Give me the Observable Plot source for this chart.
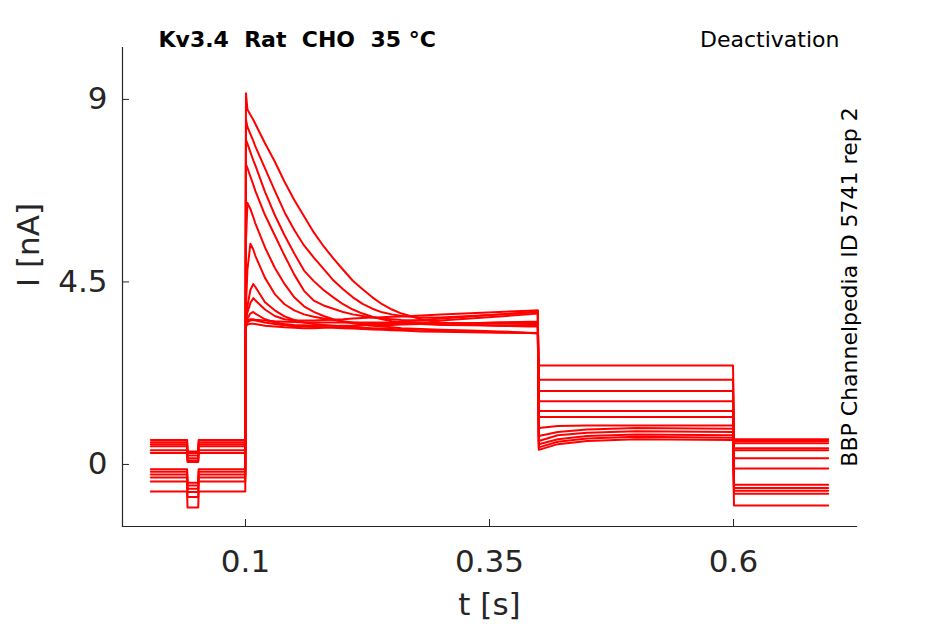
<!DOCTYPE html>
<html>
<head>
<meta charset="utf-8">
<script src="https://cdn.jsdelivr.net/npm/d3@7"></script>
<script src="https://cdn.jsdelivr.net/npm/@observablehq/plot@0.6"></script>
<style>
  html, body { margin: 0; padding: 0; background: #fff; }
  #chart svg { display: block; }
</style>
</head>
<body>
<div id="chart"></div>
<script>
// ---- data ----
const traceIds = ["A","B","C","D","E","F","G","H","I","J","K","L"];

// holding current before the activation step (0 - 0.1 s), and during the short test pulse
const holdTimes = [0.003, 0.0402, 0.0406, 0.0516, 0.052, 0.0998];
const holdLevel = [0.60, 0.55, 0.50, 0.45, 0.35, 0.28, -0.12, -0.18, -0.25, -0.32, -0.42, -0.67];
const dipLevel  = [0.32, 0.28, 0.22, 0.15, 0.10, 0.06, -0.45, -0.52, -0.60, -0.68, -0.80, -1.06];

// activation step (0.1 - 0.4 s)
const stepTimes = [0.1005, 0.102, 0.105, 0.108, 0.11, 0.12, 0.13, 0.14, 0.15, 0.16, 0.17, 0.18, 0.19,
                   0.2, 0.21, 0.22, 0.23, 0.24, 0.25, 0.26, 0.28, 0.3, 0.33, 0.36, 0.39, 0.3995];
const traceA = [9.15, 8.75, 8.62, 8.50, 8.40, 7.92, 7.47, 6.97, 6.52, 6.12, 5.72, 5.38, 5.08, 4.80, 4.53, 4.32, 4.12, 3.95, 3.82, 3.72, 3.58, 3.50, 3.45, 3.42, 3.40, 3.40];
const traceB = [8.50, 8.32, 8.15, 7.98, 7.85, 7.30, 6.75, 6.22, 5.78, 5.40, 5.10, 4.82, 4.54, 4.32, 4.12, 3.96, 3.84, 3.75, 3.70, 3.66, 3.62, 3.62, 3.66, 3.70, 3.74, 3.76];
const traceC = [8.00, 7.91, 7.70, 7.50, 7.38, 6.72, 6.15, 5.65, 5.20, 4.78, 4.52, 4.30, 4.12, 3.95, 3.82, 3.72, 3.64, 3.58, 3.53, 3.50, 3.46, 3.44, 3.43, 3.42, 3.42, 3.42];
const traceD = [7.40, 7.31, 7.10, 6.90, 6.75, 6.15, 5.65, 5.15, 4.68, 4.28, 4.04, 3.92, 3.84, 3.76, 3.70, 3.66, 3.62, 3.60, 3.58, 3.56, 3.55, 3.55, 3.60, 3.65, 3.70, 3.72];
const traceE = [5.50, 6.45, 6.30, 6.10, 5.95, 5.35, 4.85, 4.45, 4.12, 3.90, 3.76, 3.66, 3.58, 3.52, 3.48, 3.45, 3.42, 3.40, 3.38, 3.36, 3.34, 3.32, 3.30, 3.28, 3.25, 3.24];
const traceF = [3.90, 4.80, 5.44, 5.30, 5.15, 4.60, 4.20, 3.95, 3.80, 3.70, 3.64, 3.60, 3.56, 3.53, 3.50, 3.48, 3.47, 3.46, 3.46, 3.46, 3.46, 3.47, 3.48, 3.50, 3.50, 3.50];
const traceG = [3.60, 3.90, 4.30, 4.45, 4.38, 4.00, 3.80, 3.65, 3.56, 3.50, 3.46, 3.44, 3.42, 3.40, 3.38, 3.37, 3.36, 3.35, 3.34, 3.33, 3.32, 3.30, 3.28, 3.26, 3.24, 3.23];
const traceH = [3.55, 3.75, 3.98, 4.10, 4.05, 3.82, 3.66, 3.58, 3.55, 3.55, 3.55, 3.56, 3.57, 3.58, 3.60, 3.61, 3.62, 3.63, 3.64, 3.65, 3.67, 3.70, 3.73, 3.76, 3.79, 3.80];
const traceI = [3.50, 3.60, 3.72, 3.76, 3.72, 3.58, 3.50, 3.46, 3.44, 3.43, 3.42, 3.42, 3.42, 3.42, 3.42, 3.43, 3.43, 3.44, 3.44, 3.45, 3.46, 3.47, 3.48, 3.50, 3.52, 3.52];
const traceJ = [3.45, 3.50, 3.55, 3.56, 3.55, 3.50, 3.46, 3.43, 3.41, 3.40, 3.39, 3.38, 3.37, 3.36, 3.35, 3.34, 3.33, 3.32, 3.31, 3.30, 3.28, 3.27, 3.26, 3.25, 3.24, 3.24];
const traceK = [3.50, 3.55, 3.58, 3.58, 3.57, 3.55, 3.53, 3.52, 3.51, 3.50, 3.50, 3.50, 3.50, 3.50, 3.50, 3.50, 3.50, 3.50, 3.50, 3.50, 3.50, 3.49, 3.48, 3.47, 3.46, 3.46];
const traceL = [3.40, 3.45, 3.47, 3.47, 3.46, 3.42, 3.40, 3.38, 3.37, 3.36, 3.36, 3.37, 3.38, 3.39, 3.41, 3.43, 3.45, 3.47, 3.50, 3.52, 3.56, 3.60, 3.65, 3.70, 3.75, 3.78];
const activation = [traceA, traceB, traceC, traceD, traceE, traceF, traceG, traceH, traceI, traceJ, traceK, traceL];

// deactivation step (0.4 - 0.6 s)
const deactTimes = [0.4005, 0.42, 0.45, 0.5, 0.5995];
const deactStart = [2.44, 2.09, 1.81, 1.56, 1.32, 1.17, 0.90, 0.70, 0.58, 0.50, 0.42, 0.36];
const deactEarly = [2.44, 2.09, 1.81, 1.56, 1.32, 1.17, 0.95, 0.80, 0.72, 0.62, 0.56, 0.50];
const deactMid   = [2.44, 2.09, 1.81, 1.56, 1.32, 1.17, 0.96, 0.86, 0.78, 0.70, 0.64, 0.58];
const deactLate  = [2.44, 2.09, 1.81, 1.56, 1.32, 1.17, 0.96, 0.90, 0.82, 0.74, 0.68, 0.62];
const deactEnd   = [2.44, 2.09, 1.81, 1.56, 1.32, 1.17, 0.96, 0.88, 0.80, 0.72, 0.66, 0.60];

// return to holding (0.6 - 0.7 s)
const tailTimes = [0.6005, 0.697];
const tailLevel = [0.62, 0.58, 0.52, 0.40, 0.35, 0.15, -0.10, -0.50, -0.58, -0.65, -0.72, -1.01];

const xTicks = [0.1, 0.35, 0.6];
const yTicks = [0, 4.5, 9];
const xTickLabels = ["0.1", "0.35", "0.6"];
const yTickLabels = ["0", "4.5", "9"];

const titleText = "Kv3.4\u00a0\u00a0Rat\u00a0\u00a0CHO\u00a0\u00a035 °C";
const protocolText = "Deactivation";
const sideText = "BBP Channelpedia ID 5741 rep 2";
const xLabel = "t [s]";
const yLabel = "I [nA]";

// ---- assemble rows ----
const rows = [];
traceIds.forEach((id, i) => {
  const holdVals = [holdLevel[i], holdLevel[i], dipLevel[i], dipLevel[i], holdLevel[i], holdLevel[i]];
  holdTimes.forEach((t, k) => rows.push({trace: id, t, I: holdVals[k]}));
  stepTimes.forEach((t, k) => rows.push({trace: id, t, I: activation[i][k]}));
  const dv = [deactStart[i], deactEarly[i], deactMid[i], deactLate[i], deactEnd[i]];
  deactTimes.forEach((t, k) => rows.push({trace: id, t, I: dv[k]}));
  tailTimes.forEach(t => rows.push({trace: id, t, I: tailLevel[i]}));
});

const ink = "#262626";
const chart = Plot.plot({
  width: 945,
  height: 624,
  marginLeft: 122,
  marginRight: 89,
  marginTop: 47,
  marginBottom: 98,
  x: {domain: [-0.026, 0.726]},
  y: {domain: [-1.53, 10.28]},
  style: {fontFamily: "DejaVu Sans", background: "white", color: ink},
  marks: [
    Plot.line(rows, {x: "t", y: "I", z: "trace", stroke: "#ff0000", strokeWidth: 2, strokeLinejoin: "round"}),
    Plot.frame({anchor: "left", stroke: ink, strokeWidth: 1.2}),
    Plot.frame({anchor: "bottom", stroke: ink, strokeWidth: 1.2}),
    Plot.axisX({ticks: xTicks, tickSize: -7, text: null, stroke: ink, label: null}),
    Plot.axisY({ticks: yTicks, tickSize: -7, text: null, stroke: ink, label: null}),
    Plot.axisX({ticks: xTicks, tickSize: 0, tickPadding: 23, fontSize: 31, fill: ink, label: null,
                tickFormat: d => xTickLabels[xTicks.indexOf(d)]}),
    Plot.axisY({ticks: yTicks, tickSize: 0, tickPadding: 15, fontSize: 31, fill: ink, label: null,
                tickFormat: d => yTickLabels[yTicks.indexOf(d)]}),
    Plot.text([xLabel], {frameAnchor: "bottom", dy: 79, fontSize: 31, fill: ink, lineAnchor: "middle"}),
    Plot.text([yLabel], {frameAnchor: "left", dx: -93, rotate: -90, fontSize: 31, fill: ink, lineAnchor: "middle"}),
    Plot.text([titleText], {frameAnchor: "top-left", textAnchor: "start", dx: 36, dy: -8, lineAnchor: "middle",
                            fontSize: 22, fontWeight: "bold", fill: "#000"}),
    Plot.text([protocolText], {frameAnchor: "top-right", textAnchor: "end", dx: -17, dy: -8, lineAnchor: "middle",
                               fontSize: 22, fill: "#000"}),
    Plot.text([sideText], {frameAnchor: "right", dx: -7, rotate: -90, textAnchor: "middle", fontSize: 22,
                           fill: "#000", lineAnchor: "middle"})
  ]
});
document.getElementById("chart").appendChild(chart);
</script>
</body>
</html>
